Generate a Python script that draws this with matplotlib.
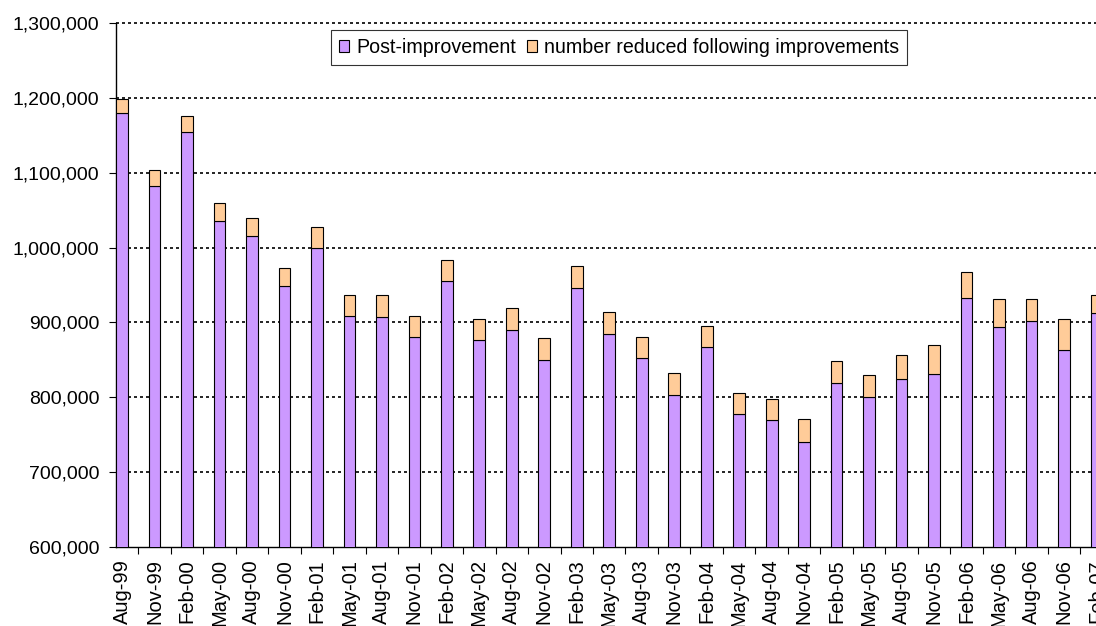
import matplotlib
matplotlib.use("Agg")
import matplotlib.pyplot as plt
import numpy as np
from matplotlib.ticker import FuncFormatter, FixedLocator

categories = ["Aug-99", "Nov-99", "Feb-00", "May-00", "Aug-00", "Nov-00", "Feb-01",
              "May-01", "Aug-01", "Nov-01", "Feb-02", "May-02", "Aug-02", "Nov-02",
              "Feb-03", "May-03", "Aug-03", "Nov-03", "Feb-04", "May-04", "Aug-04",
              "Nov-04", "Feb-05", "May-05", "Aug-05", "Nov-05", "Feb-06", "May-06",
              "Aug-06", "Nov-06", "Feb-07"]

post_improvement = [1180000, 1082000, 1154000, 1035000, 1015000, 948000, 1000000,
                    909000, 907000, 880000, 955000, 877000, 890000, 850000,
                    946000, 885000, 852000, 803000, 867000, 778000, 769000,
                    740000, 819000, 801000, 825000, 831000, 932000, 894000,
                    902000, 863000, 912000]

total = [1199000, 1103000, 1176000, 1059000, 1039000, 973000, 1027000,
         936000, 936000, 909000, 983000, 905000, 919000, 879000,
         975000, 914000, 880000, 833000, 895000, 806000, 798000,
         771000, 848000, 830000, 857000, 870000, 968000, 931000,
         931000, 904000, 936000]

reduced = [t - p for t, p in zip(total, post_improvement)]

series_names = ["Post-improvement", "number reduced following improvements"]
colors = ["#CC99FF", "#FFCC99"]

plt.rcParams['font.family'] = ['Liberation Sans', 'DejaVu Sans']

W, H = 1096, 626
fig = plt.figure(figsize=(W / 100, H / 100), dpi=100)
# plot area runs past the right edge of the picture (as in the original crop)
ax_left, ax_right = 116, 1102.5
ax = fig.add_axes([ax_left / W, 1 - 547 / H, (ax_right - ax_left) / W, (547 - 23) / H])

x = np.arange(len(categories))
w = 0.36
ax.bar(x, post_improvement, width=w, color=colors[0], edgecolor="black",
       linewidth=0.8, label=series_names[0], zorder=3)
ax.bar(x, reduced, width=w, bottom=post_improvement, color=colors[1],
       edgecolor="black", linewidth=0.8, label=series_names[1], zorder=3)

ax.yaxis.set_major_locator(FixedLocator(np.arange(600000, 1300001, 100000)))
ax.yaxis.set_major_formatter(FuncFormatter(lambda v, p: f"{int(v):,}"))
ax.tick_params(axis="y", direction="out", length=5, width=0.8, labelsize=14, pad=7)

for yv in np.arange(700000, 1300001, 100000):
    ax.axhline(yv, color="black", linewidth=1.2, linestyle=(0, (1.8, 1.8)), zorder=1,
               clip_on=False)

ax.set_xticks(x)
ax.set_xticklabels(categories, rotation=90, fontsize=14.5)
ax.tick_params(axis="x", which="major", length=0, pad=9)
ax.set_xticks(np.arange(len(categories) - 1) + 0.5, minor=True)
ax.tick_params(axis="x", which="minor", direction="out", length=5, width=0.8)

ax.set_ylim(600000, 1300000)
ax.set_xlim(-0.185, 30.185)

for s in ["top", "right"]:
    ax.spines[s].set_visible(False)
for s in ["left", "bottom"]:
    ax.spines[s].set_linewidth(1.0)
    ax.spines[s].set_color("black")

leg = fig.legend(loc="upper left", bbox_to_anchor=(331 / W, 1 - 30 / H), ncol=2,
                 fontsize=14.1, frameon=True, fancybox=False, shadow=False,
                 handlelength=0.52, handleheight=0.52, handletextpad=0.36,
                 columnspacing=0.57, borderpad=0.4, borderaxespad=0)
leg.get_frame().set_edgecolor("black")
leg.get_frame().set_linewidth(0.8)

fig.savefig("out.png", dpi=100)
